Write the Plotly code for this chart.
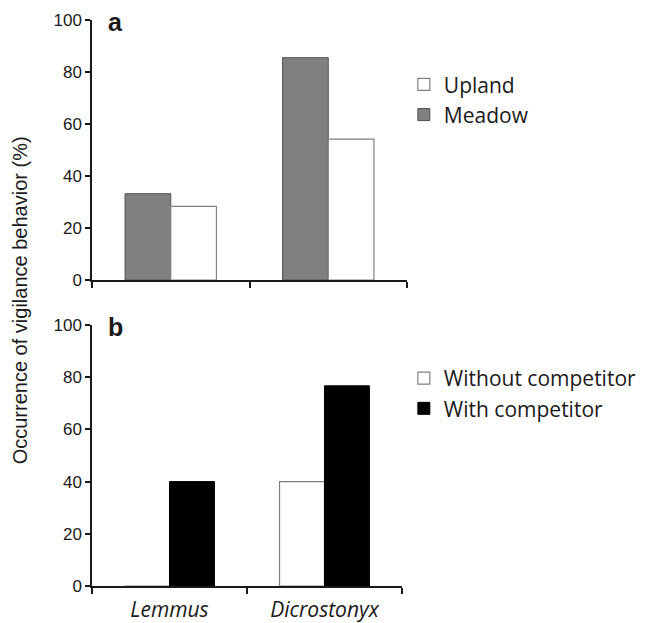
import plotly.graph_objects as go

species = ["Lemmus", "Dicrostonyx"]
meadow = [33.2, 85.5]
upland = [28.3, 54.2]
without_comp = [0, 40.0]
with_comp = [40.0, 76.7]
y_ticks = [0, 20, 40, 60, 80, 100]

TICKFONT = dict(family="Liberation Sans, Arial", size=17, color="#1a1a1a")
LEGFONT = dict(family="Open Sans", size=21, color="#1a1a1a")

fig = go.Figure()
fig.add_trace(go.Bar(x=species, y=meadow, name="Meadow", xaxis="x", yaxis="y",
                     marker=dict(color="#808080", line=dict(color="#505050", width=1)),
                     legend="legend", legendrank=2))
fig.add_trace(go.Bar(x=species, y=upland, name="Upland", xaxis="x", yaxis="y",
                     marker=dict(color="white", line=dict(color="#808080", width=1.2)),
                     legend="legend", legendrank=1))
fig.add_trace(go.Bar(x=species, y=without_comp, name="Without competitor", xaxis="x2", yaxis="y2",
                     marker=dict(color="white", line=dict(color="#808080", width=1.2)),
                     legend="legend2", legendrank=1))
fig.add_trace(go.Bar(x=species, y=with_comp, name="With competitor", xaxis="x2", yaxis="y2",
                     marker=dict(color="black", line=dict(color="black", width=1)),
                     legend="legend2", legendrank=2))

xcommon = dict(type="category", showline=True, linecolor="#1a1a1a", linewidth=1.5,
               ticks="outside", tickson="boundaries", ticklen=6, tickcolor="#1a1a1a",
               tickwidth=1.5, showgrid=False, zeroline=False)
ycommon = dict(range=[0, 100], tickvals=y_ticks, showline=True, linecolor="#1a1a1a",
               linewidth=1.5, ticks="outside", ticklen=5, tickcolor="#1a1a1a", tickwidth=1.5,
               showgrid=False, zeroline=False, tickfont=TICKFONT)

fig.update_layout(
    width=641, height=615,
    margin=dict(l=84, r=242, t=12, b=37, autoexpand=False),
    plot_bgcolor="white", paper_bgcolor="white",
    barmode="group", bargap=0.42, bargroupgap=0,
    xaxis=dict(domain=[0, 1], anchor="y", showticklabels=False, **xcommon),
    yaxis=dict(domain=[0.5406, 1.0], anchor="x", **ycommon),
    xaxis2=dict(domain=[0, 0.984], anchor="y2", showticklabels=True, ticklabelstandoff=4,
                tickfont=dict(family="Open Sans", size=21, color="#1a1a1a", style="italic"),
                **xcommon),
    yaxis2=dict(domain=[0, 0.4611], anchor="x2", **ycommon),
    legend=dict(x=0.99, xanchor="left", y=0.922, yanchor="top", font=LEGFONT,
                bgcolor="rgba(0,0,0,0)", tracegroupgap=0, itemwidth=30),
    legend2=dict(x=0.99, xanchor="left", y=0.403, yanchor="top", font=LEGFONT,
                 bgcolor="rgba(0,0,0,0)", tracegroupgap=0, itemwidth=30),
    annotations=[
        dict(text="<b>a</b>", x=0.045, y=1.025, xref="paper", yref="paper", xanchor="left",
             yanchor="top", showarrow=False, font=dict(family="Liberation Sans, Arial", size=25, color="#1a1a1a")),
        dict(text="<b>b</b>", x=0.045, y=0.486, xref="paper", yref="paper", xanchor="left",
             yanchor="top", showarrow=False, font=dict(family="Liberation Sans, Arial", size=25, color="#1a1a1a")),
        dict(text="Occurrence of vigilance behavior (%)", x=-0.228, y=0.505, xref="paper",
             yref="paper", textangle=-90, showarrow=False, xanchor="center", yanchor="middle",
             font=dict(family="Liberation Sans, Arial", size=20, color="#1a1a1a")),
    ],
)

fig.write_html("out.html")
